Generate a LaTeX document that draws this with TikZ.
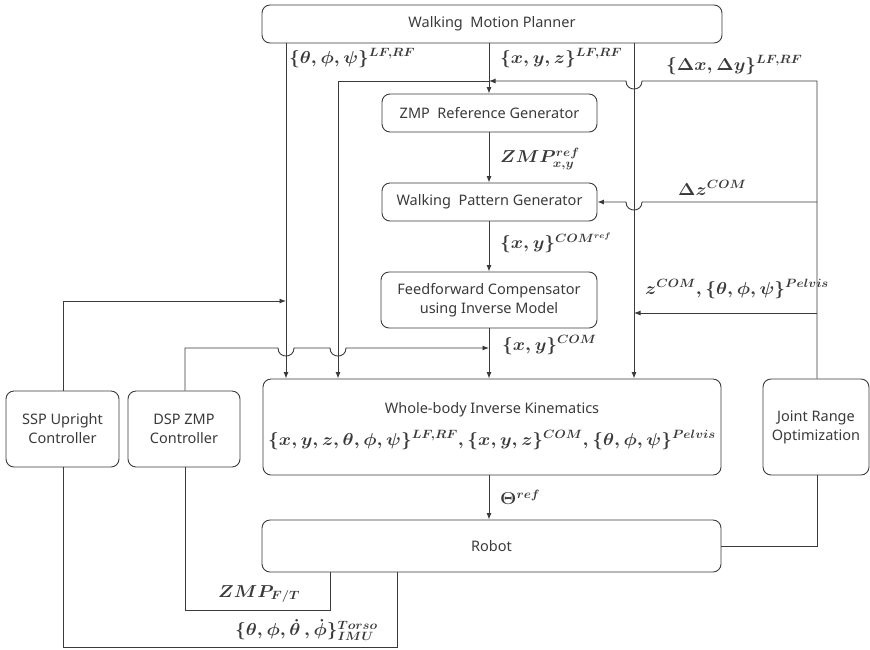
\documentclass[tikz,border=0pt]{standalone}
\usepackage{fontspec}
\usepackage{graphicx}
\setmainfont{Noto Sans}
\usetikzlibrary{arrows.meta}
\definecolor{ink}{HTML}{3A3A3A}
\newcommand{\widemath}[1]{\scalebox{1.08}[1]{$#1$}}
\begin{document}
\begin{tikzpicture}[x=1pt,y=-1pt,
  ink/.style={draw=ink,line width=0.9pt},
  block/.style={ink,rounded corners=8pt,align=center,inner sep=0pt,
    font=\fontsize{14.5}{19}\selectfont,text=ink},
  arr/.style={ink,-{Latex[length=6.5pt,width=5pt]}},
  wire/.style={ink},
  lbl/.style={anchor=west,inner sep=0pt,text=ink,font=\fontsize{17}{19}\selectfont\boldmath}]
\useasboundingbox (0,0) rectangle (870,649);

% column positions of the vertical signal lines
\coordinate (xA) at (286,0);
\coordinate (xB) at (338,0);
\coordinate (xC) at (489,0);
\coordinate (xD) at (634,0);
\coordinate (xE) at (817,0);
\coordinate (xS) at (63,0);
\coordinate (xZ) at (185,0);
\coordinate (xF) at (330,0);
\coordinate (xI) at (397,0);
% row positions of the horizontal signal lines
\coordinate (yDelta) at (0,81);
\coordinate (ySSP) at (0,301);
\coordinate (yDSP) at (0,348);
\coordinate (yPel) at (0,313);
\coordinate (yFT) at (0,610);
\coordinate (yIMU) at (0,647);

% blocks
\node[block,minimum width=460,minimum height=38] (wmp) at (492,24) {Walking\ \ Motion\ Planner};
\node[block,minimum width=215,minimum height=38] (zrg) at (489.5,113) {ZMP\ \ Reference Generator};
\node[block,minimum width=215,minimum height=38] (wpg) at (489.5,202) {Walking\ \ Pattern Generator};
\node[block,minimum width=216,minimum height=56] (ffc) at (489,300) {Feedforward Compensator\\using Inverse Model};
\node[block,minimum width=458,minimum height=96] (wbik) at (492,427) {};
\node[block,minimum width=106,minimum height=96] (jro) at (816,427) {Joint Range\\Optimization};
\node[block,minimum width=113,minimum height=76] (ssp) at (62.5,429) {SSP Upright\\Controller};
\node[block,minimum width=112,minimum height=76] (dsp) at (184,429) {DSP ZMP\\Controller};
\node[block,minimum width=459,minimum height=52] (robot) at (491.5,546) {Robot};
\node[text=ink,inner sep=0pt,font=\fontsize{14.5}{19}\selectfont] (wbikt) at (492,410) {Whole-body Inverse Kinematics};
\node[text=ink,inner sep=0pt,font=\fontsize{17}{19}\selectfont\boldmath] (wbikm) at (492,440)
  {\widemath{\{x,y,z,\theta,\phi,\psi\}^{LF,RF},\{x,y,z\}^{COM},\{\theta,\phi,\psi\}^{Pelvis}}};

% feet orientation and position from the planner
\draw[arr] (wmp.south -| xA) -- (wbik.north -| xA);
\draw[arr] (wmp.south -| xC) -- (zrg.north -| xC);
\draw[arr] (wmp.south -| xD) -- (wbik.north -| xD);

% foot offsets from the joint range optimizer
\draw[arr] (jro.north -| xE) -- (xE |- yDelta) -- ([xshift=8]xD |- yDelta)
  .. controls ([xshift=8,yshift=-10.7]xD |- yDelta) and ([xshift=-8,yshift=-10.7]xD |- yDelta)
  .. ([xshift=-8]xD |- yDelta) -- (xC |- yDelta);
\draw[arr] (xC |- yDelta) -- (xB |- yDelta) -- (wbik.north -| xB);

% main chain
\draw[arr] (zrg.south -| xC) -- (wpg.north -| xC);
\draw[arr] (wpg.south -| xC) -- (ffc.north -| xC);
\draw[arr] (ffc.south -| xC) -- (wbik.north -| xC);
\draw[arr] (wbik.south -| xC) -- (robot.north -| xC);

% COM height correction
\draw[arr] (xE |- wpg.east) -- ([xshift=8]xD |- wpg.east)
  .. controls ([xshift=8,yshift=-10.7]xD |- wpg.east) and ([xshift=-8,yshift=-10.7]xD |- wpg.east)
  .. ([xshift=-8]xD |- wpg.east) -- (wpg.east);
\draw[arr] (xE |- yPel) -- (xD |- yPel);

% balance controllers
\draw[arr] (ssp.north -| xS) -- (xS |- ySSP) -- (xA |- ySSP);
\draw[arr] (dsp.north -| xZ) -- (xZ |- yDSP) -- ([xshift=-8]xA |- yDSP)
  .. controls ([xshift=-8,yshift=-10.7]xA |- yDSP) and ([xshift=8,yshift=-10.7]xA |- yDSP)
  .. ([xshift=8]xA |- yDSP) -- ([xshift=-8]xB |- yDSP)
  .. controls ([xshift=-8,yshift=-10.7]xB |- yDSP) and ([xshift=8,yshift=-10.7]xB |- yDSP)
  .. ([xshift=8]xB |- yDSP) -- (xC |- yDSP);

% sensor feedback
\draw[wire] (robot.east) -- (xE |- robot.east) -- (jro.south -| xE);
\draw[wire] (robot.south -| xF) -- (xF |- yFT) -- (xZ |- yFT) -- (dsp.south -| xZ);
\draw[wire] (robot.south -| xI) -- (xI |- yIMU) -- (xS |- yIMU) -- (ssp.south -| xS);

% signal labels
\node[lbl] (l1) at (289,58) {\widemath{\{\theta,\phi,\psi\}^{LF,RF}}};
\node[lbl] (l2) at (500,58) {\widemath{\{x,y,z\}^{LF,RF}}};
\node[lbl] (l3) at (666,65) {\widemath{\{\Delta x,\Delta y\}^{LF,RF}}};
\node[lbl] (l4) at (500,159) {\widemath{ZMP^{ref}_{x,y}}};
\node[lbl] (l5) at (678,188) {\widemath{\Delta z^{COM}}};
\node[lbl] (l6) at (500,243) {\widemath{\{x,y\}^{COM^{ref}}}};
\node[lbl] (l7) at (645,289) {\widemath{z^{COM},\{\theta,\phi,\psi\}^{Pelvis}}};
\node[lbl] (l8) at (502,345) {\widemath{\{x,y\}^{COM}}};
\node[lbl] (l9) at (500,497) {\widemath{\Theta^{ref}}};
\node[lbl] (l10) at (218,594) {\widemath{ZMP_{F/T}}};
\node[lbl] (l11) at (235,630) {\widemath{\{\theta,\phi,\dot\theta\,,\dot\phi\}^{Torso}_{IMU}}};
\end{tikzpicture}
\end{document}
